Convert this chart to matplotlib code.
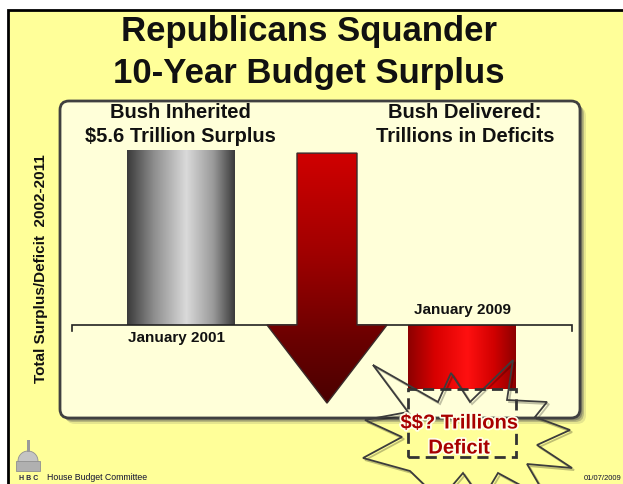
from __future__ import annotations

import matplotlib

matplotlib.use("Agg")
import matplotlib.patheffects as pe
import matplotlib.pyplot as plt
import matplotlib.transforms as mtransforms
import numpy as np
from matplotlib.colors import LinearSegmentedColormap
from matplotlib.patches import Circle, FancyBboxPatch, Polygon, Rectangle

plt.rcParams["font.family"] = ["Liberation Sans", "DejaVu Sans"]

# --- data (trillions of dollars, cumulative 2002-2011) ---
periods = ["January 2001", "January 2009"]
balances = [5.6, -2.05]
deficit_unknown = -4.22          # bottom of the dashed "$$?" box
arrow_span = [5.5, -2.5]         # swing arrow: top of shaft, tip
headers = [
    ["Bush Inherited", "$5.6 Trillion Surplus"],
    ["Bush Delivered:", "Trillions in Deficits"],
]
title = ["Republicans Squander", "10-Year Budget Surplus"]
ylabel = "Total Surplus/Deficit  2002-2011"

# --- layout (pixels) ---
W, H = 623, 484
BASE_PX = 325
PX_PER_T = 31.25
bar_x = [181, 462]
bar_w = 108
arrow_x, shaft_w, head_w = 327, 60, 120

BG = "#FFFF99"
PANEL = "#FFFFD9"
INK = "#111111"


def gradient(ax, patch, extent, colors, stops, vertical=False):
    cmap = LinearSegmentedColormap.from_list("g", list(zip(stops, colors)))
    ramp = np.linspace(0, 1, 256)
    img = ramp[:, None] if vertical else ramp[None, :]
    im = ax.imshow(img, cmap=cmap, extent=extent, aspect="auto",
                   origin="upper", zorder=patch.get_zorder() - 0.1)
    im.set_clip_path(patch)


fig = plt.figure(figsize=(W / 100, H / 100), dpi=100, facecolor="white")
ax = fig.add_axes([0, 0, 1, 1])
ax.set_axis_off()
# pixel coordinates, origin top-left
px = mtransforms.Affine2D().scale(1 / W, -1 / H).translate(0, 1) + fig.transFigure

# slide background and frame
ax.add_patch(Rectangle((8, 10), W, H, transform=px, facecolor=BG,
                       edgecolor="black", lw=2, zorder=0, clip_on=False))

# panel with shadow
for off, a in [(6, 0.15), (4, 0.3), (2.5, 0.45)]:
    ax.add_patch(FancyBboxPatch((60 + off, 101 + off), 520, 317, transform=px,
                                boxstyle="round,pad=0,rounding_size=9",
                                facecolor="#555555", edgecolor="none",
                                alpha=a, zorder=1, clip_on=False))
ax.add_patch(FancyBboxPatch((60, 101), 520, 317, transform=px,
                            boxstyle="round,pad=0,rounding_size=9",
                            facecolor=PANEL, edgecolor="#404040", lw=2,
                            zorder=2, clip_on=False))

# title
for ty, line in zip([31, 73], title):
    ax.text(309, ty, line, transform=px, ha="center", va="center",
            fontsize=25, fontweight="bold", color=INK, zorder=5)

# y label
ax.text(41, 269, ylabel, transform=px, rotation=90, ha="center", va="center",
        fontsize=11, fontweight="bold", color=INK, zorder=5)

# headers
for hx, lines in zip([180, 465], headers):
    for hy, line in zip([113, 137], lines):
        ax.text(hx, hy, line, transform=px, ha="center", va="center",
                fontsize=14.5, fontweight="bold", color=INK, zorder=5,
                parse_math=False)

# bars with gradients
bar_styles = [
    (["#3a3a3a", "#8e8e8e", "#dadada", "#9a9a9a", "#3a3a3a"], [0, 0.25, 0.55, 0.8, 1]),
    (["#8c0000", "#d80000", "#ff1010", "#d00000", "#8c0000"], [0, 0.25, 0.55, 0.8, 1]),
]
for x, v, (cols, stops) in zip(bar_x, balances, bar_styles):
    r = Rectangle((x - bar_w / 2, 0), bar_w, v, facecolor="none",
                  edgecolor="none", zorder=4)
    ax.add_patch(r)
    gradient(ax, r, (x - bar_w / 2, x + bar_w / 2, min(v, 0), max(v, 0)),
             cols, stops)

# period labels: below baseline for surplus, above for deficit
for x, v, lab in zip(bar_x, balances, periods):
    off = 13 if v > 0 else -15
    ax.text(x - 4 if v > 0 else x, BASE_PX + off, lab, transform=px,
            ha="center", va="center", fontsize=11, fontweight="bold",
            color=INK, zorder=5)

# baseline with end ticks
tick = 6 / PX_PER_T
ax.plot([72, 72, 572, 572], [-tick, 0, 0, -tick],
        color="#222222", lw=1.2, zorder=4.5, solid_joinstyle="miter")

# big down arrow
top, tip = arrow_span
arrow = Polygon([
    (arrow_x - shaft_w / 2, top), (arrow_x + shaft_w / 2, top),
    (arrow_x + shaft_w / 2, 0), (arrow_x + head_w / 2, 0),
    (arrow_x, tip), (arrow_x - head_w / 2, 0), (arrow_x - shaft_w / 2, 0),
], closed=True, facecolor="none", edgecolor="#3a2a2a", lw=1.0, zorder=6)
ax.add_patch(arrow)
gradient(ax, arrow, (arrow_x - head_w / 2, arrow_x + head_w / 2, tip, top),
         ["#d00000", "#a00000", "#6a0000", "#4a0000"], [0, 0.4, 0.75, 1],
         vertical=True)

# starburst callout (decorative)
burst = [(373, 365), (438, 402), (451, 373), (470, 402), (513, 360),
         (507, 400), (547, 402), (535, 417), (570, 430), (537, 445),
         (572, 468), (527, 464), (548, 500), (498, 473), (482, 500),
         (463, 473), (440, 500), (410, 471), (363, 458), (402, 437),
         (365, 420), (408, 412)]
ax.add_patch(Polygon(burst, closed=True, transform=px, fill=False,
                     edgecolor="#3c3c3c", lw=1.3, zorder=7, clip_on=False,
                     path_effects=[pe.SimpleLineShadow(offset=(1.5, -1.5), alpha=0.25),
                                   pe.Normal()]))

# dashed "unknown" deficit box
x = bar_x[1]
ax.add_patch(Rectangle((x - bar_w / 2, deficit_unknown), bar_w,
                       balances[1] - deficit_unknown, fill=False,
                       edgecolor="#333333", lw=2, linestyle=(0, (4, 2.2)),
                       zorder=7.5))
for ty, line in zip([423, 448], ["$$? Trillions", "Deficit"]):
    ax.text(x - 3, ty, line, transform=px, ha="center", va="center",
            fontsize=14.5, fontweight="bold", color="#A80000", zorder=8,
            parse_math=False,
            path_effects=[pe.withStroke(linewidth=2.5, foreground="#FFFFE8")])

# footer: capitol icon, committee name, date
ax.add_patch(Circle((28, 461), 10, transform=px, facecolor="#c4c4c4",
                    edgecolor="#909090", lw=0.6, zorder=3, clip_on=False))
ax.add_patch(Rectangle((16, 461), 24, 10, transform=px, facecolor="#b0b0b0",
                       edgecolor="#909090", lw=0.6, zorder=3.1, clip_on=False))
ax.add_patch(Rectangle((27, 440), 2.5, 12, transform=px, facecolor="#9a9a9a",
                       edgecolor="none", zorder=3, clip_on=False))
ax.text(29, 478, "H B C", transform=px, ha="center", va="center", fontsize=5,
        fontweight="bold", color="#222244", zorder=5)
ax.text(47, 478, "House Budget Committee", transform=px, ha="left",
        va="center", fontsize=6.3, color="#111133", zorder=5)
ax.text(584, 478, "01/07/2009", transform=px, ha="left", va="center",
        fontsize=5.5, color="#111133", zorder=5)

ax.set_xlim(0, W)
ax.set_ylim(-(H - BASE_PX) / PX_PER_T, BASE_PX / PX_PER_T)

fig.savefig("out.png", dpi=100, facecolor=fig.get_facecolor())
plt.close(fig)
